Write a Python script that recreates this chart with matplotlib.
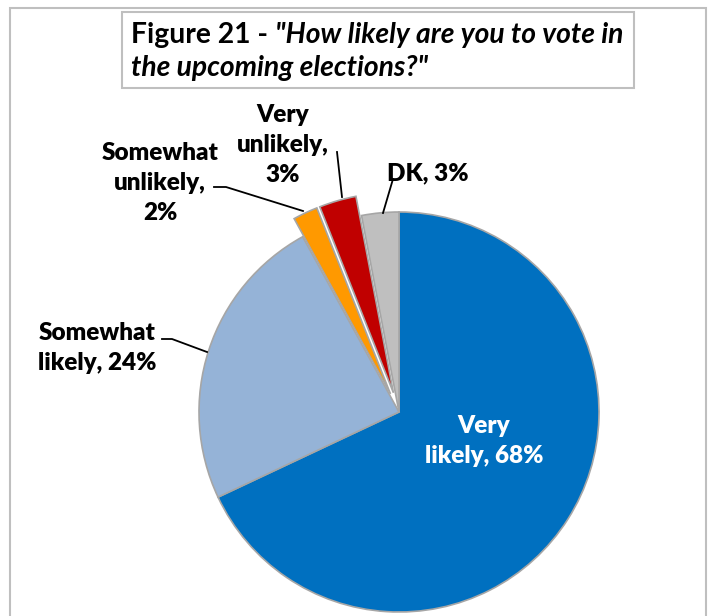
import matplotlib
matplotlib.use("Agg")
import matplotlib.pyplot as plt
from matplotlib.patches import Rectangle

# data
labels = ["Very\nlikely, 68%", "Somewhat\nlikely, 24%", "Somewhat\nunlikely,\n2%",
          "Very\nunlikely,\n3%", "DK, 3%"]
values = [68, 24, 2, 3, 3]
colors = ["#0070C0", "#95B3D7", "#FF9900", "#C00000", "#BFBFBF"]
explode = [0, 0, 0.1, 0.1, 0]   # fraction of the radius
title_a = "Figure 21 - "
title_b = "\"How likely are you to vote in"
title_c = "the upcoming elections?\""

W, H = 710, 616
FONT = "Lato"

fig = plt.figure(figsize=(W / 100, H / 100), dpi=100)
ax = fig.add_axes([0, 0, 1, 1])


def Y(py):
    # image pixel row -> data y
    return H - py


cx, cy, r = 399, Y(412), 200
wedges, _ = ax.pie(values, colors=colors, explode=[e * r for e in explode],
                   startangle=90, counterclock=False, center=(cx, cy), radius=r,
                   wedgeprops=dict(edgecolor="#A6A6A6", linewidth=1.2),
                   frame=True)
ax.set_xlim(0, W)
ax.set_ylim(0, H)
ax.set_aspect("equal")
ax.axis("off")

# outer frame and title box
ax.add_patch(Rectangle((10, Y(625)), 696, 617, fill=False, ec="#BFBFBF", lw=1.5))
ax.add_patch(Rectangle((122, Y(88)), 512, 76, fill=False, ec="#BFBFBF", lw=1.5))

# title: bold + bold italic on the first line
fs_t = 20.3
t1 = ax.text(131, Y(35), title_a, fontsize=fs_t, fontweight="bold", family=FONT,
             ha="left", va="center")
fig.canvas.draw()
bb = t1.get_window_extent()
x_end = ax.transData.inverted().transform((bb.x1, bb.y0))[0]
ax.text(x_end, Y(35), title_b, fontsize=fs_t, fontweight="bold", style="italic",
        family=FONT, ha="left", va="center")
ax.text(131, Y(68), title_c, fontsize=fs_t, fontweight="bold", style="italic",
        family=FONT, ha="left", va="center")

# slice labels
fs = 17.5
lab_pos = [(484, 441), (97, 348), (160, 183), (283, 145), (428, 173)]
for i, (lbl, (px, py)) in enumerate(zip(labels, lab_pos)):
    col = "white" if i == 0 else "black"
    ax.text(px, Y(py), lbl, fontsize=fs, fontweight="heavy", family=FONT,
            ha="center", va="center", color=col, linespacing=1.42)

# leader lines
leaders = [
    [(162, 339), (172, 339), (207, 352)],
    [(214, 187), (226, 187), (303, 211)],
    [(337, 152), (342, 197)],
    [(393, 179), (383, 213)],
]
for pts in leaders:
    xs = [p[0] for p in pts]
    ys = [Y(p[1]) for p in pts]
    ax.plot(xs, ys, color="black", lw=1.3)

fig.savefig("out.png", dpi=100)
